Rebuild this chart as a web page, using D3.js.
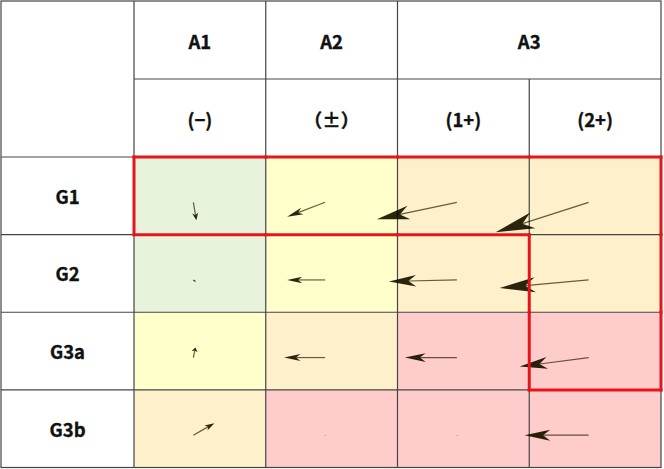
<!DOCTYPE html>
<html>
<head>
<meta charset="utf-8">
<script src="https://d3js.org/d3.v7.min.js"></script>
<style>
body { margin: 0; background: #fff; }
svg { display: block; font-family: "Noto Sans CJK JP", "Noto Sans", sans-serif; }
</style>
</head>
<body>
<svg width="664" height="469"></svg>
<script>
// header and row labels
var groupLabels = ["A1", "A2", "A3"];
var groupSpans = [1, 1, 2];
var subLabels = ["(−)", "（±）", "(1+)", "(2+)"];
var rowLabels = ["G1", "G2", "G3a", "G3b"];

// background category of each cell (0 green, 1 yellow, 2 peach, 3 pink)
var cellLevels = [
  [0, 1, 2, 2],
  [0, 1, 2, 2],
  [1, 2, 3, 3],
  [2, 3, 3, 3]
];
var levelColors = ["#e8f3de", "#ffffcc", "#fff0cc", "#ffcccc"];

// arrow components per cell (u to the right, v upwards)
var uValues = [
  [3, -38, -80, -93],
  [1.5, -38, -68, -89],
  [2, -41, -52, -69],
  [21, 0, 0, -64]
];
var vValues = [
  [-18, -14.5, -17, -30],
  [-1, 0, -1.5, -8],
  [10, 0, 0, -9],
  [12, 0, 0, 0]
];

// highlighted cells inside the red outline
var highlight = [
  ["G1", "(−)"], ["G1", "（±）"], ["G1", "(1+)"], ["G1", "(2+)"],
  ["G2", "(2+)"], ["G3a", "(2+)"]
];

var svg = d3.select("svg");
var leftX = 1, labelW = 133, rightX = 661, topY = 1, headH = 78, bottomY = 467.5;

var x = d3.scaleBand().domain(subLabels).range([leftX + labelW, rightX]);
var y = d3.scaleBand().domain(rowLabels).range([topY + 2 * headH, bottomY]);
var vec = d3.scaleLinear().domain([0, 1]).range([0, 1]);

// cell backgrounds
var cells = [];
rowLabels.forEach(function(r, i) {
  subLabels.forEach(function(c, j) {
    cells.push({row: r, col: c, level: cellLevels[i][j], u: uValues[i][j], v: vValues[i][j]});
  });
});

svg.append("g").selectAll("rect")
  .data(cells).enter().append("rect")
  .attr("x", function(d) { return x(d.col); })
  .attr("y", function(d) { return y(d.row); })
  .attr("width", x.bandwidth())
  .attr("height", y.bandwidth())
  .attr("fill", function(d) { return levelColors[d.level]; });

// grid lines
var grid = svg.append("g").attr("stroke", "#444").attr("stroke-width", 1.2).attr("fill", "none");
grid.append("rect").attr("x", leftX).attr("y", topY).attr("width", rightX - leftX).attr("height", bottomY - topY);
// header separators
grid.append("line").attr("x1", x(subLabels[0])).attr("x2", rightX).attr("y1", topY + headH).attr("y2", topY + headH);
grid.append("line").attr("x1", leftX).attr("x2", rightX).attr("y1", topY + 2 * headH).attr("y2", topY + 2 * headH);
rowLabels.slice(1).forEach(function(r) {
  grid.append("line").attr("x1", leftX).attr("x2", rightX).attr("y1", y(r)).attr("y2", y(r));
});
// vertical lines
var groupStart = 0;
groupSpans.forEach(function(s, gi) {
  var xs = x(subLabels[groupStart]);
  grid.append("line").attr("x1", xs).attr("x2", xs).attr("y1", topY).attr("y2", bottomY);
  for (var k = 1; k < s; k++) {
    var xi = x(subLabels[groupStart + k]);
    grid.append("line").attr("x1", xi).attr("x2", xi).attr("y1", topY + headH).attr("y2", bottomY);
  }
  groupStart += s;
});

// texts
var txt = svg.append("g").attr("font-weight", "bold").attr("font-size", 18.5)
  .attr("text-anchor", "middle").attr("dominant-baseline", "central")
  .attr("fill", "#111").attr("stroke", "#111").attr("stroke-width", 0.35);
groupStart = 0;
groupSpans.forEach(function(s, gi) {
  var x0 = x(subLabels[groupStart]), x1 = x(subLabels[groupStart + s - 1]) + x.bandwidth();
  txt.append("text").attr("x", (x0 + x1) / 2).attr("y", topY + headH / 2 + 1).text(groupLabels[gi]);
  groupStart += s;
});
subLabels.forEach(function(c) {
  txt.append("text").attr("x", x(c) + x.bandwidth() / 2).attr("y", topY + headH * 1.5 + 1).text(c);
});
rowLabels.forEach(function(r) {
  txt.append("text").attr("x", leftX + labelW / 2).attr("y", y(r) + y.bandwidth() / 2).text(r);
});

// arrows
var arrows = svg.append("g").style("mix-blend-mode", "multiply");
cells.forEach(function(d) {
  var x0 = x(d.col) + x.bandwidth() / 2 - 6.5;
  var y0 = y(d.row) + y.bandwidth() / 2 + 6.5;
  var dx = vec(d.u), dy = -vec(d.v);
  var len = Math.sqrt(dx * dx + dy * dy);
  if (len < 3) {
    arrows.append("line").attr("x1", x0).attr("y1", y0).attr("x2", x0 + dx + 0.6).attr("y2", y0 + dy + 0.6)
      .attr("stroke", "#222").attr("stroke-width", 1.2).attr("opacity", len < 0.5 ? 0.35 : 0.9);
    return;
  }
  var ux = dx / len, uy = dy / len, px = -uy, py = ux;
  var tx = x0 + dx, ty = y0 + dy;
  var hl = len * 0.4, hw = Math.max(3, len * 0.085), notch = hl * 0.72;
  arrows.append("line").attr("x1", x0).attr("y1", y0).attr("x2", tx - ux * notch).attr("y2", ty - uy * notch)
    .attr("stroke", "#4a4630").attr("stroke-width", 1.2).attr("opacity", 0.85);
  var pts = [
    [tx, ty],
    [tx - ux * hl + px * hw, ty - uy * hl + py * hw],
    [tx - ux * notch, ty - uy * notch],
    [tx - ux * hl - px * hw, ty - uy * hl - py * hw]
  ];
  arrows.append("path").attr("d", d3.line()(pts) + "Z").attr("fill", "#1e1a00").attr("opacity", 0.95);
});

// red outline around highlighted cells, traced along the cell edges
var hset = {};
highlight.forEach(function(h) { hset[h[0] + "|" + h[1]] = true; });
var edges = [];
cells.forEach(function(d) {
  if (!hset[d.row + "|" + d.col]) return;
  var i = rowLabels.indexOf(d.row), j = subLabels.indexOf(d.col);
  var xa = x(d.col), xb = xa + x.bandwidth(), ya = y(d.row), yb = ya + y.bandwidth();
  var has = function(ii, jj) { return ii >= 0 && jj >= 0 && ii < rowLabels.length && jj < subLabels.length && hset[rowLabels[ii] + "|" + subLabels[jj]]; };
  if (!has(i - 1, j)) edges.push([xa, ya, xb, ya]);
  if (!has(i + 1, j)) edges.push([xa, yb, xb, yb]);
  if (!has(i, j - 1)) edges.push([xa, ya, xa, yb]);
  if (!has(i, j + 1)) edges.push([xb, ya, xb, yb]);
});
svg.append("g").selectAll("line").data(edges).enter().append("line")
  .attr("x1", function(e) { return e[0]; }).attr("y1", function(e) { return e[1]; })
  .attr("x2", function(e) { return e[2]; }).attr("y2", function(e) { return e[3]; })
  .attr("stroke", "#e8141c").attr("stroke-width", 3).attr("stroke-linecap", "square");
</script>
</body>
</html>
